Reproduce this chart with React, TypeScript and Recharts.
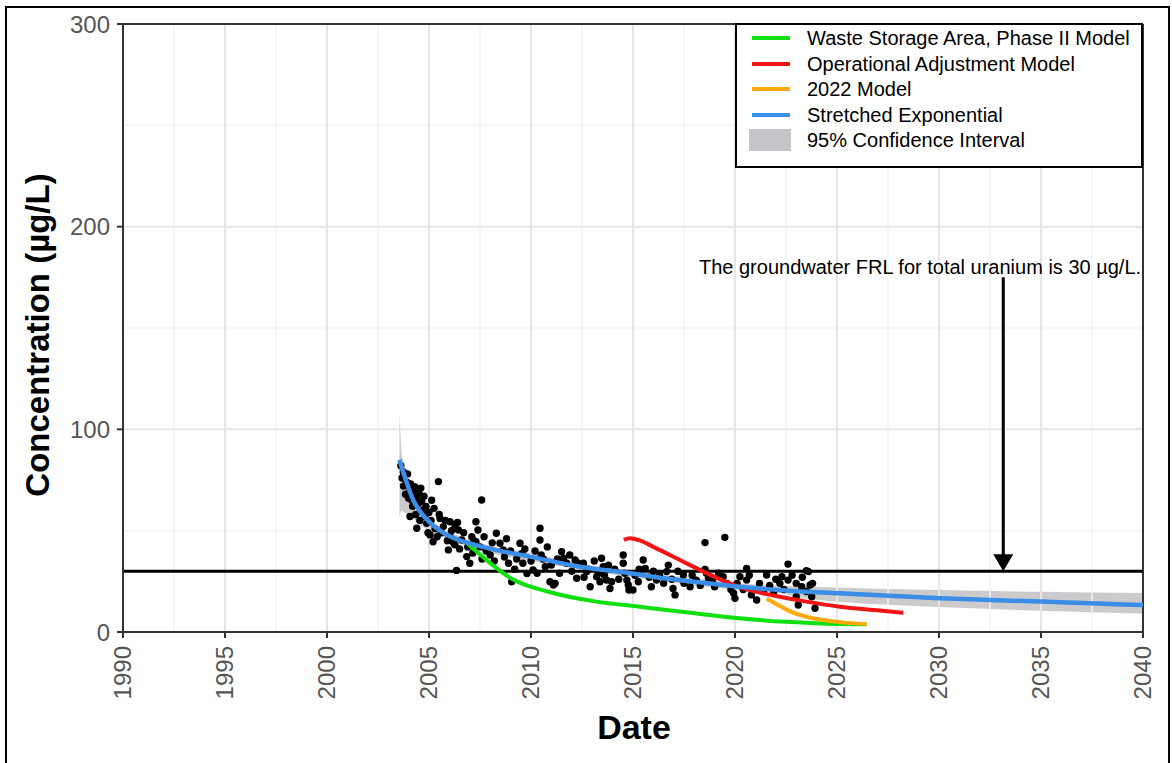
import React from "react";
import {
  ComposedChart,
  Line,
  Area,
  Scatter,
  XAxis,
  YAxis,
  ReferenceLine,
  ReferenceDot,
} from "recharts";

// observed concentrations (year, µg/L)
const OBSERVED: [number, number][] = [
  [2003.62, 82], [2003.68, 76], [2003.74, 79], [2003.75, 72], [2003.85, 68], [2003.9, 74],
  [2003.95, 78], [2004.0, 66], [2004.07, 70], [2004.07, 57], [2004.1, 73], [2004.15, 65],
  [2004.2, 62], [2004.25, 69], [2004.3, 71.7], [2004.35, 58], [2004.4, 51.2], [2004.4, 66],
  [2004.45, 63], [2004.5, 68.4], [2004.55, 55], [2004.6, 71], [2004.64, 64.3], [2004.72, 60.2],
  [2004.75, 67], [2004.8, 57], [2004.85, 62], [2004.89, 53.6], [2004.95, 49], [2005.0, 59],
  [2005.05, 47.9], [2005.1, 55], [2005.13, 65], [2005.2, 44.5], [2005.25, 61], [2005.3, 51],
  [2005.4, 47], [2005.46, 74.2], [2005.5, 58], [2005.54, 56], [2005.6, 49], [2005.7, 52],
  [2005.8, 55], [2005.9, 45], [2005.95, 40.5], [2006.03, 54.4], [2006.03, 47], [2006.1, 50],
  [2006.2, 44], [2006.27, 52.8], [2006.27, 43], [2006.35, 30.4], [2006.4, 54], [2006.44, 50.3],
  [2006.5, 41], [2006.6, 45.4], [2006.7, 49], [2006.85, 37.2], [2006.9, 42], [2007.0, 33.9],
  [2007.1, 47], [2007.15, 39], [2007.2, 45], [2007.3, 54.4], [2007.3, 44.5], [2007.4, 50.3],
  [2007.5, 42], [2007.58, 65.1], [2007.6, 36], [2007.7, 47], [2007.8, 40], [2008.0, 38],
  [2008.1, 44], [2008.2, 35], [2008.3, 48.7], [2008.48, 43.8], [2008.64, 40.5], [2008.7, 37],
  [2008.8, 46], [2008.9, 33.9], [2009.0, 40], [2009.05, 24.8], [2009.2, 31], [2009.3, 36],
  [2009.46, 43.8], [2009.55, 38.8], [2009.6, 33.9], [2009.7, 41], [2009.8, 28.9], [2010.0, 35],
  [2010.1, 30.6], [2010.2, 40], [2010.3, 29], [2010.44, 51.2], [2010.44, 45.4], [2010.5, 38],
  [2010.6, 36], [2010.7, 32.2], [2010.8, 42], [2010.93, 24.8], [2011.0, 33], [2011.1, 23.2],
  [2011.18, 24], [2011.3, 36], [2011.4, 29], [2011.5, 39.6], [2011.6, 36.4], [2011.75, 33.9],
  [2011.9, 38], [2012.0, 30], [2012.16, 35.5], [2012.24, 26.5], [2012.3, 34], [2012.57, 33.9],
  [2012.6, 27], [2012.73, 29.8], [2012.8, 31], [2012.9, 22.3], [2013.1, 35], [2013.22, 27.3],
  [2013.3, 29], [2013.38, 24.8], [2013.46, 36.4], [2013.54, 32.2], [2013.6, 28], [2013.7, 25.6],
  [2013.8, 33], [2013.87, 21.5], [2013.95, 24.8], [2014.1, 31], [2014.3, 26], [2014.52, 38],
  [2014.52, 33.9], [2014.6, 29], [2014.7, 25.6], [2014.77, 23.2], [2014.8, 20.7], [2015.0, 20.7],
  [2015.1, 28], [2015.26, 24.8], [2015.3, 31], [2015.5, 35.5], [2015.6, 31.4], [2015.8, 27],
  [2015.9, 22.3], [2016.0, 30], [2016.15, 25.6], [2016.3, 28], [2016.5, 24], [2016.65, 29.8],
  [2016.73, 33], [2016.9, 26], [2016.96, 21.5], [2017.06, 18.3], [2017.2, 30], [2017.47, 28.1],
  [2017.5, 24], [2017.8, 22.3], [2017.9, 28], [2018.1, 25.6], [2018.3, 23], [2018.53, 44.1],
  [2018.53, 30.9], [2018.6, 29], [2018.7, 26.5], [2018.9, 25], [2019.0, 22.3], [2019.2, 29],
  [2019.42, 27.3], [2019.5, 46.7], [2019.6, 24], [2019.8, 21], [2019.93, 19.1], [2020.0, 16.6],
  [2020.1, 24], [2020.24, 27.3], [2020.4, 21], [2020.57, 31.4], [2020.57, 25.6], [2020.7, 28],
  [2020.8, 18.3], [2021.06, 15.8], [2021.2, 24], [2021.4, 20], [2021.55, 28.1], [2021.7, 23],
  [2021.9, 19.9], [2022.0, 26], [2022.2, 24], [2022.3, 27.3], [2022.4, 21], [2022.6, 33.5],
  [2022.6, 25.6], [2022.8, 28], [2023.0, 17.4], [2023.0, 24], [2023.1, 13.3], [2023.27, 22.3],
  [2023.3, 27], [2023.5, 30.3], [2023.5, 20], [2023.6, 29.8], [2023.68, 23.2], [2023.76, 17.4],
  [2023.8, 24], [2023.92, 11.7],
];

const STRETCHED_EXP: [number, number][] = [
  [2003.55, 85], [2003.8, 77], [2004.23, 65], [2004.6, 59], [2005.05, 54], [2005.87, 48],
  [2007.0, 43.7], [2008.3, 40.4], [2009.95, 37.2], [2012.4, 32.2], [2014.85, 29], [2016.3, 26.8],
  [2018.0, 24.8], [2020.24, 22.3], [2022.5, 20.5], [2025.15, 19.1], [2030.05, 16.6],
  [2034.95, 15], [2040, 13.3],
];

// 95% confidence interval [year, low, high]
const CONF_INT: [number, number, number][] = [
  [2003.55, 56, 108], [2003.65, 60, 90], [2003.8, 59, 80], [2004.2, 56, 68], [2004.7, 52, 60],
  [2005.2, 49, 54], [2006.0, 45.5, 49.5], [2007.0, 42, 45.5], [2008.0, 39, 42.5], [2010.0, 35, 39],
  [2012.0, 31.5, 34.5], [2015.0, 27, 30], [2018.0, 23, 26.5], [2020.0, 21, 24], [2022.0, 19.5, 23],
  [2023.5, 16.5, 22.5], [2025.0, 15, 22], [2030.0, 12.3, 20.7], [2035.0, 10.5, 19.8],
  [2040, 9, 19.2],
];

const WSA_PHASE2: [number, number][] = [
  [2006.8, 44.5], [2007.3, 40], [2008.0, 34], [2009.1, 26], [2010.8, 20], [2013.2, 15],
  [2015.3, 12.5], [2017.8, 9.5], [2020.2, 6.8], [2022.5, 5], [2024.5, 4.1], [2026.45, 3.8],
];

const OPER_ADJ: [number, number][] = [
  [2014.55, 45.5], [2014.85, 46.3], [2015.3, 45.3], [2016.0, 42], [2017.6, 34], [2019.27, 26],
  [2020.6, 21], [2021.9, 18], [2023.5, 15], [2025.15, 12.5], [2027.1, 10.6], [2028.25, 9.4],
];

const MODEL_2022: [number, number][] = [
  [2021.55, 16.5], [2022.0, 14], [2022.7, 10.2], [2023.5, 7.5], [2024.33, 5.9], [2025.5, 4.5],
  [2026.45, 3.9],
];

const X_TICKS = [1990, 1995, 2000, 2005, 2010, 2015, 2020, 2025, 2030, 2035, 2040];
const X_MINOR = [1992.5, 1997.5, 2002.5, 2007.5, 2012.5, 2017.5, 2022.5, 2027.5, 2032.5, 2037.5];
const Y_TICKS = [0, 100, 200, 300];
const Y_MINOR = [50, 150, 250];

const FRL = 30;
const FRL_NOTE = "The groundwater FRL for total uranium is 30 µg/L.";

const LEGEND = [
  { label: "Waste Storage Area, Phase II Model", color: "#10e010", kind: "line" },
  { label: "Operational Adjustment Model", color: "#f01414", kind: "line" },
  { label: "2022 Model", color: "#ffa90a", kind: "line" },
  { label: "Stretched Exponential", color: "#3a8ee8", kind: "line" },
  { label: "95% Confidence Interval", color: "#c6c6ca", kind: "box" },
];

const FONT = "'Liberation Sans', Arial, Helvetica, sans-serif";

const toXY = (arr: [number, number][]) => arr.map(([x, y]) => ({ x, y }));

const XTick = (props: any) => {
  const { x, payload } = props;
  const yy = props.y + 6;
  return (
    <text
      x={x}
      y={yy}
      dy={8}
      transform={`rotate(-90, ${x}, ${yy})`}
      textAnchor="end"
      fill="#555"
      fontSize={24}
      fontFamily={FONT}
    >
      {payload.value}
    </text>
  );
};

export default function App() {
  const ciData = CONF_INT.map(([x, lo, hi]) => ({ x, band: [lo, hi] }));

  return (
    <div style={{ position: "absolute", left: 0, top: 0, width: 1172, height: 763, background: "#fff", fontFamily: FONT, overflow: "hidden" }}>
      <ComposedChart
        width={1172}
        height={763}
        margin={{ top: 24, right: 29, bottom: 0, left: 0 }}
      >
        {X_MINOR.map((v) => (
          <ReferenceLine key={`xm${v}`} x={v} stroke="#f3f3f3" strokeWidth={1.5} />
        ))}
        {Y_MINOR.map((v) => (
          <ReferenceLine key={`ym${v}`} y={v} stroke="#f3f3f3" strokeWidth={1.5} />
        ))}
        {X_TICKS.map((v) => (
          <ReferenceLine key={`xg${v}`} x={v} stroke="#e6e6e6" strokeWidth={2} />
        ))}
        {Y_TICKS.map((v) => (
          <ReferenceLine key={`yg${v}`} y={v} stroke="#e6e6e6" strokeWidth={2} />
        ))}
        <XAxis
          dataKey="x"
          type="number"
          domain={[1990, 2040]}
          ticks={X_TICKS}
          allowDataOverflow
          height={131}
          tick={<XTick />}
          tickSize={6}
          axisLine={{ stroke: "#333", strokeWidth: 2 }}
          tickLine={{ stroke: "#333", strokeWidth: 2 }}
        />
        <YAxis
          type="number"
          domain={[0, 300]}
          ticks={Y_TICKS}
          width={123}
          tickSize={6}
          tickMargin={7}
          tick={{ fill: "#555", fontSize: 24, fontFamily: FONT }}
          axisLine={{ stroke: "#333", strokeWidth: 2 }}
          tickLine={{ stroke: "#333", strokeWidth: 2 }}
        />
        <ReferenceLine y={300} stroke="#333" strokeWidth={2} />
        <ReferenceLine x={2040} stroke="#333" strokeWidth={2} />

        <Area
          data={ciData}
          dataKey="band"
          type="monotone"
          stroke="none"
          fill="#b9b9bd"
          fillOpacity={0.75}
          isAnimationActive={false}
        />
        <ReferenceLine y={FRL} stroke="#000" strokeWidth={3} />
        <Scatter
          data={toXY(OBSERVED)}
          dataKey="y"
          fill="#000"
          isAnimationActive={false}
          shape={(p: any) => <circle cx={p.cx} cy={p.cy} r={3.7} fill="#000" />}
        />
        <Line data={toXY(WSA_PHASE2)} dataKey="y" type="monotone" stroke="#10e010" strokeWidth={4} dot={false} isAnimationActive={false} zIndex={700} />
        <Line data={toXY(OPER_ADJ)} dataKey="y" type="monotone" stroke="#f01414" strokeWidth={4} dot={false} isAnimationActive={false} zIndex={700} />
        <Line data={toXY(MODEL_2022)} dataKey="y" type="monotone" stroke="#ffa90a" strokeWidth={4} dot={false} isAnimationActive={false} zIndex={700} />
        <Line data={toXY(STRETCHED_EXP)} dataKey="y" type="monotone" stroke="#3a8ee8" strokeWidth={4.5} dot={false} isAnimationActive={false} zIndex={701} />

        <ReferenceLine
          segment={[{ x: 2033.15, y: 175 }, { x: 2033.15, y: 37 }]}
          stroke="#000"
          strokeWidth={3}
        />
        <ReferenceDot
          x={2033.15}
          y={FRL}
          r={0}
          shape={(p: any) => (
            <path
              d={`M${p.cx},${p.cy} L${p.cx - 10},${p.cy - 17} L${p.cx + 10},${p.cy - 17} Z`}
              fill="#000"
            />
          )}
        />
        <ReferenceDot
          x={2029.07}
          y={176.6}
          r={0}
          shape={(p: any) => (
            <text x={p.cx} y={p.cy} textAnchor="middle" fontSize={20} fill="#000" fontFamily={FONT}>
              {FRL_NOTE}
            </text>
          )}
        />
      </ComposedChart>

      {/* legend */}
      <div style={{ position: "absolute", left: 735, top: 23, width: 404, height: 141, border: "2px solid #000", background: "#fff" }}>
        {LEGEND.map((item, i) => (
          <div key={item.label} style={{ position: "absolute", left: 0, top: 1 + i * 25.5, height: 24, width: 400 }}>
            {item.kind === "line" ? (
              <div style={{ position: "absolute", left: 15, top: 10, width: 38, height: 4, background: item.color }} />
            ) : (
              <div style={{ position: "absolute", left: 12, top: 1, width: 42, height: 22, background: item.color }} />
            )}
            <div style={{ position: "absolute", left: 70, top: 0, fontSize: 20, lineHeight: "24px", color: "#000", whiteSpace: "nowrap" }}>
              {item.label}
            </div>
          </div>
        ))}
      </div>

      {/* axis titles */}
      <div style={{ position: "absolute", left: 38, top: 335, transform: "translate(-50%, -50%) rotate(-90deg)", fontSize: 33, fontWeight: "bold", whiteSpace: "nowrap", color: "#000" }}>
        Concentration (µg/L)
      </div>
      <div style={{ position: "absolute", left: 634, top: 727, transform: "translate(-50%, -50%)", fontSize: 34, fontWeight: "bold", whiteSpace: "nowrap", color: "#000" }}>
        Date
      </div>

      {/* outer frame */}
      <div style={{ position: "absolute", left: 5, top: 6, width: 1161, height: 800, border: "2px solid #000", pointerEvents: "none" }} />
    </div>
  );
}
